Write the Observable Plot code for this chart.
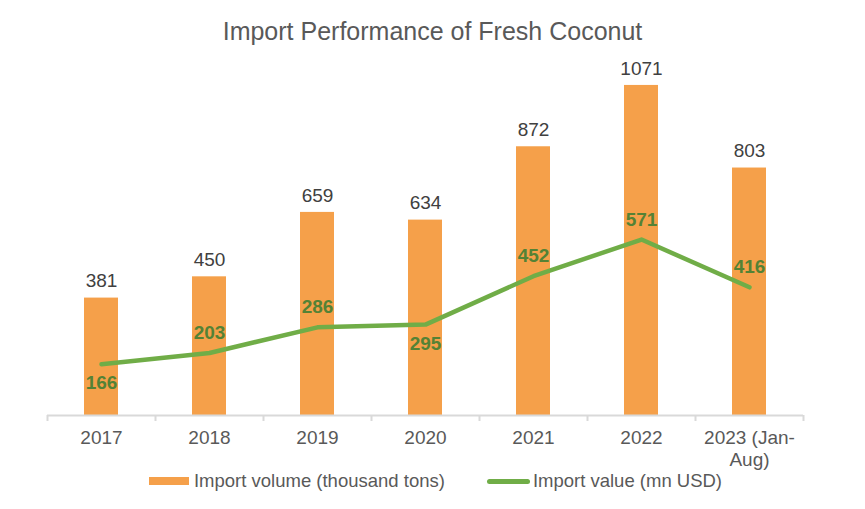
<!DOCTYPE html>
<html>
<head>
<meta charset="utf-8">
<script src="https://cdn.jsdelivr.net/npm/d3@7"></script>
<script src="https://cdn.jsdelivr.net/npm/@observablehq/plot@0.6"></script>
<style>
  html, body { margin: 0; padding: 0; background: #fff; }
  body { width: 865px; height: 509px; overflow: hidden; font-family: "Liberation Sans", Arial, sans-serif; }
  #title { height: 52px; box-sizing: border-box; padding-top: 18px; text-align: center; font-size: 25px; line-height: 26px; color: #595959; }
  #legend { display: flex; justify-content: center; align-items: center; height: 22px; font-size: 18.5px; color: #595959; padding-left: 6px; }
  .sw-bar { width: 40px; height: 8px; background: #F5A04A; margin-right: 5px; }
  .sw-line { width: 43px; height: 5px; border-radius: 3px; background: #70AD47; margin-left: 42px; margin-right: 3px; }
</style>
</head>
<body>
<div id="title">Import Performance of Fresh Coconut</div>
<div id="chart"></div>
<div id="legend"><span class="sw-bar"></span><span>Import volume (thousand tons)</span><span class="sw-line"></span><span>Import value (mn USD)</span></div>
<script>
const categories = ["2017", "2018", "2019", "2020", "2021", "2022", "2023 (Jan-\nAug)"];
const volume = [381, 450, 659, 634, 872, 1071, 803];
const value = [166, 203, 286, 295, 452, 571, 416];
const valueLabelPlacement = ["below", "above", "above", "below", "above", "above", "above"];

const data = categories.map((c, i) => ({year: c, volume: volume[i], value: value[i], place: valueLabelPlacement[i]}));

const W = 865, H = 418, mL = 47, mR = 62, mT = 24, mB = 55;
const step = (W - mL - mR) / categories.length;

const chart = Plot.plot({
  width: W, height: H,
  marginLeft: mL, marginRight: mR, marginTop: mT, marginBottom: mB,
  style: {fontFamily: "Liberation Sans, Arial, sans-serif", background: "#fff"},
  x: {domain: categories, paddingInner: 0.685, paddingOuter: 0.3425, axis: null},
  y: {domain: [0, 1100], axis: null},
  marks: [
    Plot.barY(data, {x: "year", y: "volume", fill: "#F5A04A"}),
    Plot.ruleY([0], {stroke: "#D9D9D9", strokeWidth: 2}),
    Plot.ruleX(categories, {x: d => d, dx: -step / 2, y1: 0, y2: 0, insetBottom: -6, stroke: "#D9D9D9", strokeWidth: 2}),
    Plot.ruleX([categories[categories.length - 1]], {x: d => d, dx: step / 2, y1: 0, y2: 0, insetBottom: -6, stroke: "#D9D9D9", strokeWidth: 2}),
    Plot.text(categories, {x: d => d, y: 0, text: d => d, dy: 13, lineAnchor: "top", lineHeight: 1.15, fontSize: 19, fill: "#595959"}),
    Plot.line(data, {x: "year", y: "value", stroke: "#70AD47", strokeWidth: 4.5, strokeLinecap: "round", strokeLinejoin: "round"}),
    Plot.text(data, {x: "year", y: "volume", text: d => String(d.volume), dy: -17, fontSize: 19, fill: "#404040"}),
    Plot.text(data.filter(d => d.place === "above"), {x: "year", y: "value", text: d => String(d.value), dy: -20, fontSize: 19, fontWeight: "bold", fill: "#548235"}),
    Plot.text(data.filter(d => d.place === "below"), {x: "year", y: "value", text: d => String(d.value), dy: 19, fontSize: 19, fontWeight: "bold", fill: "#548235"})
  ]
});
document.getElementById("chart").appendChild(chart);
</script>
</body>
</html>
